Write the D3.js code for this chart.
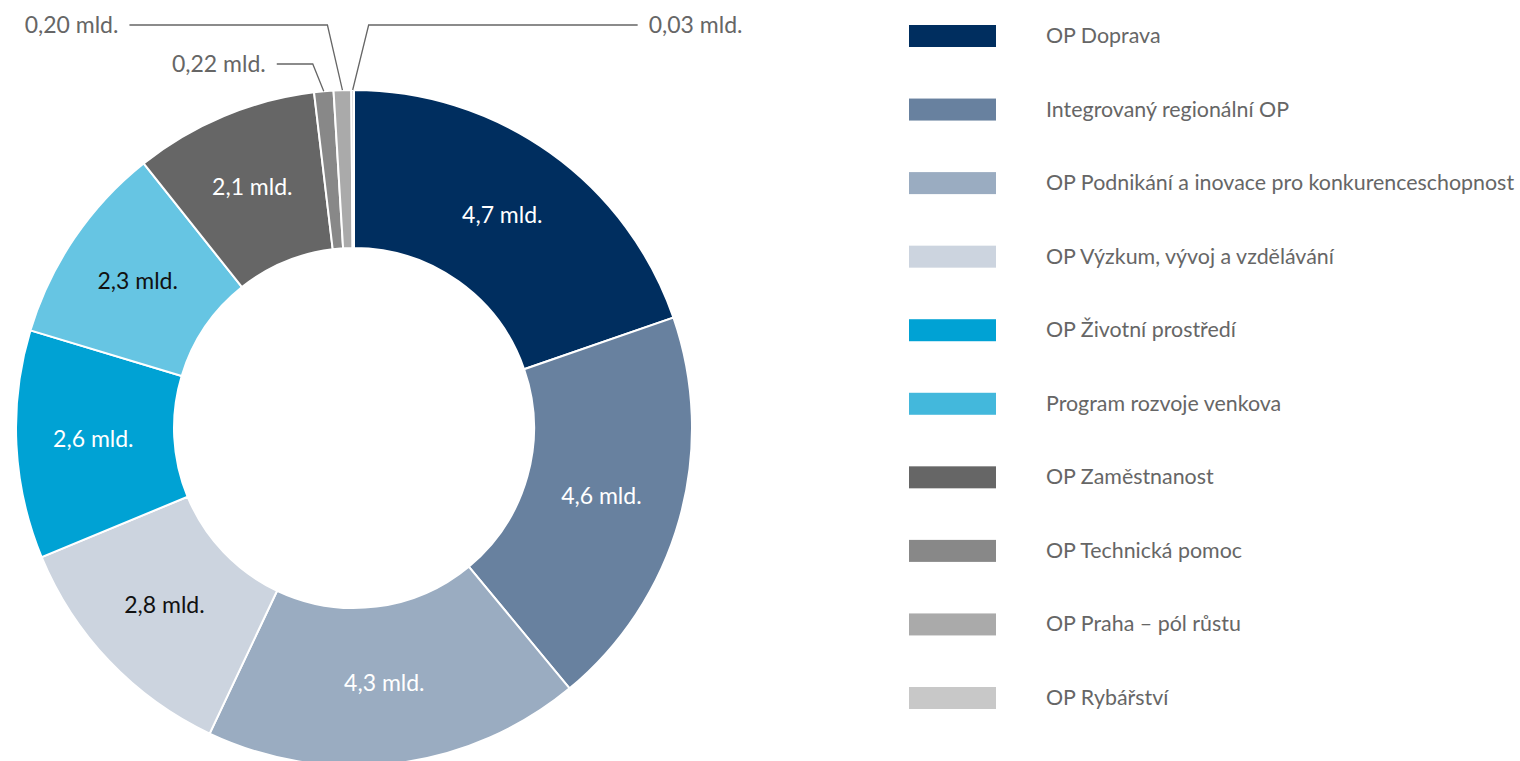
<!DOCTYPE html>
<html><head><meta charset="utf-8">
<script src="https://cdn.jsdelivr.net/npm/d3@7"></script>
<style>
html,body{margin:0;padding:0;background:#fff;}
svg{display:block;}
text{font-family:"Source Sans Pro",Lato,"Open Sans",sans-serif;}
</style></head>
<body>
<svg id="chart" width="1520" height="761"></svg>
<script>
const categories = ["OP Doprava","Integrovaný regionální OP","OP Podnikání a inovace pro konkurenceschopnost","OP Výzkum, vývoj a vzdělávání","OP Životní prostředí","Program rozvoje venkova","OP Zaměstnanost","OP Technická pomoc","OP Praha – pól růstu","OP Rybářství"];
const values = [4.7, 4.6, 4.3, 2.8, 2.6, 2.3, 2.1, 0.22, 0.20, 0.03];
const valueLabels = ["4,7 mld.","4,6 mld.","4,3 mld.","2,8 mld.","2,6 mld.","2,3 mld.","2,1 mld.","0,22 mld.","0,20 mld.","0,03 mld."];
const sliceColors = ["#002E5F","#68819F","#9AACC1","#CCD4DF","#00A2D4","#66C5E3","#666666","#888888","#AAAAAA","#C8C8C8"];
const legendColors = ["#002E5F","#68819F","#9AACC1","#CCD4DF","#00A2D4","#43B8DC","#666666","#888888","#AAAAAA","#C8C8C8"];
const labelColors = ["#fff","#fff","#fff","#111","#fff","#111","#fff","#666","#666","#666"];

const svg = d3.select("#chart");
const cx = 354, cy = 428, R = 338, r0 = 180;
const g = svg.append("g").attr("transform", `translate(${cx},${cy})`);

const data = categories.map((c,i)=>({name:c, value:values[i], i}));
const pie = d3.pie().value(d=>d.value).sort(null);
const arcs = pie(data);
const arc = d3.arc().innerRadius(r0).outerRadius(R);
const labelArc = d3.arc().innerRadius((r0+R)/2).outerRadius((r0+R)/2);

g.selectAll("path.slice").data(arcs).join("path")
  .attr("class","slice")
  .attr("d", arc)
  .attr("fill", d=>sliceColors[d.data.i])
  .attr("stroke","#fff")
  .attr("stroke-width",2);

// inside labels for large slices
g.selectAll("text.val").data(arcs.filter(d=>d.data.value>=1)).join("text")
  .attr("class","val")
  .attr("transform", d=>{const c=labelArc.centroid(d); return `translate(${c[0]-2},${c[1]-3})`;})
  .attr("text-anchor","middle")
  .attr("dominant-baseline","central")
  .attr("font-size",23)
  .attr("fill", d=>labelColors[d.data.i])
  .text(d=>valueLabels[d.data.i]);

// leader labels for small slices: [dy of label row above outer edge, elbow dx, horizontal length, side]
const leader = {7:{row:-26, ex:-11, len:36, side:-1}, 8:{row:-65, ex:-15, len:198, side:-1}, 9:{row:-65, ex:16, len:269, side:1}};
arcs.filter(d=>d.data.value<1).forEach(d=>{
  const L = leader[d.data.i];
  const a = (d.startAngle+d.endAngle)/2;
  const sx = R*Math.sin(a), sy = -R*Math.cos(a);
  const ey = -R + L.row;
  const ex = sx + L.ex;
  const hx = ex + L.side*L.len;
  g.append("polyline")
    .attr("points", `${sx},${sy} ${ex},${ey} ${hx},${ey}`)
    .attr("fill","none").attr("stroke","#666").attr("stroke-width",1.3);
  g.append("text")
    .attr("x", hx + L.side*11).attr("y", ey-1)
    .attr("text-anchor", L.side<0 ? "end":"start")
    .attr("dominant-baseline","central")
    .attr("font-size",23).attr("fill","#666")
    .text(valueLabels[d.data.i]);
});

// legend
const lg = svg.append("g").attr("transform","translate(909,36)");
const rowY = d3.scalePoint().domain(categories).range([0, 662]);
const items = lg.selectAll("g.item").data(categories).join("g")
  .attr("class","item")
  .attr("transform", d=>`translate(0,${rowY(d)})`);
items.append("rect").attr("x",0).attr("y",-11).attr("width",87).attr("height",22)
  .attr("fill",(d,i)=>legendColors[i]);
items.append("text").attr("x",137).attr("y",-1)
  .attr("dominant-baseline","central")
  .attr("font-size",21.4).attr("fill","#666")
  .text(d=>d);
</script>
</body></html>
